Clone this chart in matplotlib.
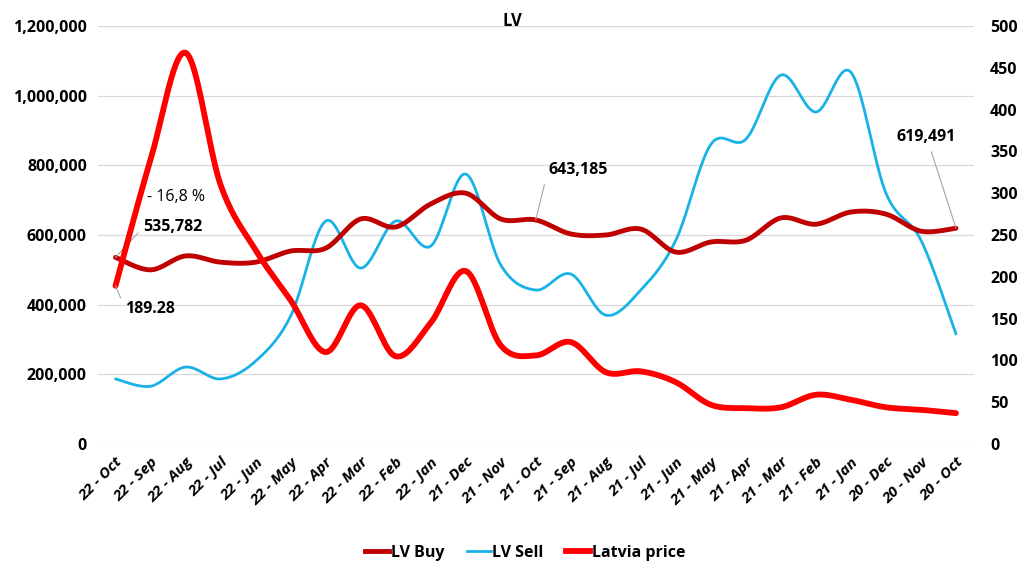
import numpy as np
import matplotlib
matplotlib.use("Agg")
import matplotlib.pyplot as plt
from matplotlib.lines import Line2D

plt.rcParams['font.family'] = ['Open Sans', 'DejaVu Sans']

months = ['22 - Oct', '22 - Sep', '22 - Aug', '22 - Jul', '22 - Jun', '22 - May',
          '22 - Apr', '22 - Mar', '22 - Feb', '22 - Jan', '21 - Dec', '21 - Nov',
          '21 - Oct', '21 - Sep', '21 - Aug', '21 - Jul', '21 - Jun', '21 - May',
          '21 - Apr', '21 - Mar', '21 - Feb', '21 - Jan', '20 - Dec', '20 - Nov',
          '20 - Oct']
lv_buy = [535782, 500000, 540000, 522000, 522000, 554000, 562000, 646000, 623000,
          689000, 720000, 646000, 643185, 603000, 600000, 617000, 551000, 580000,
          585000, 649000, 631000, 666000, 660000, 611000, 619491]
lv_sell = [187000, 166000, 221000, 187000, 238000, 367000, 640000, 505000, 640000,
           568000, 775000, 514000, 442000, 488000, 370000, 442000, 585000, 860000,
           875000, 1059000, 953000, 1067000, 720000, 585000, 316000]
latvia_price = [189.28, 340, 468, 310, 232, 172, 110, 166, 105, 145, 207, 118, 106,
                122, 86, 87, 74, 47, 43, 44, 59, 53, 44, 41, 37]


def smooth(y, n=20):
    # Excel-style smoothed line (Catmull-Rom through the points)
    y = np.asarray(y, dtype=float)
    x = np.arange(len(y), dtype=float)
    xs, ys = [], []
    for i in range(len(y) - 1):
        p0 = np.array([x[max(i - 1, 0)], y[max(i - 1, 0)]])
        p1 = np.array([x[i], y[i]])
        p2 = np.array([x[i + 1], y[i + 1]])
        p3 = np.array([x[min(i + 2, len(y) - 1)], y[min(i + 2, len(y) - 1)]])
        c1 = p1 + (p2 - p0) / 6
        c2 = p2 - (p3 - p1) / 6
        t = np.linspace(0, 1, n, endpoint=False)[:, None]
        b = (1 - t) ** 3 * p1 + 3 * (1 - t) ** 2 * t * c1 + 3 * (1 - t) * t ** 2 * c2 + t ** 3 * p2
        xs.append(b[:, 0]); ys.append(b[:, 1])
    xs.append([x[-1]]); ys.append([y[-1]])
    return np.concatenate(xs), np.concatenate(ys)


fig = plt.figure(figsize=(10.24, 5.76), dpi=100)
ax = fig.add_axes([0.0957, 0.229, 0.855, 0.726])
ax2 = ax.twinx()

c_buy, c_sell, c_price = '#C00000', '#19B2E8', '#FF0000'

ax.plot(*smooth(lv_buy), color=c_buy, lw=3.5, solid_capstyle='round', zorder=3)
ax.plot(*smooth(lv_sell), color=c_sell, lw=2.0, solid_capstyle='round', zorder=2)
ax2.plot(*smooth(latvia_price), color=c_price, lw=4.2, solid_capstyle='round')

ax.set_xlim(-0.5, len(months) - 0.5)
ax.set_ylim(0, 1200000)
ax2.set_ylim(0, 500)
ax.set_yticks(np.arange(0, 1200001, 200000))
ax.set_yticklabels([f'{v:,}' for v in range(0, 1200001, 200000)])
ax2.set_yticks(np.arange(0, 501, 50))
ax.grid(axis='y', color='#D9D9D9', lw=0.9)
ax.set_axisbelow(True)
ax.set_xticks(range(len(months)))
ax.set_xticklabels(months, rotation=45, ha='right', rotation_mode='anchor',
                   fontsize=11, fontweight='bold', fontstyle='italic')
for a in (ax, ax2):
    for s in a.spines.values():
        s.set_visible(False)
    a.tick_params(length=0, labelsize=11.5)
    for lab in a.get_yticklabels():
        lab.set_fontweight('bold')
ax.tick_params(axis='x', pad=8, labelsize=11)
ax.tick_params(axis='y', pad=8)
ax2.tick_params(axis='y', pad=12)

# data labels with leader lines
lab_kw = dict(fontsize=11.5, fontweight='bold', color='black')
ax.annotate(f'{lv_buy[0]:,}', xy=(0, lv_buy[0]), xytext=(0.8, 623000),
            va='center', ha='left',
            arrowprops=dict(arrowstyle='-', color='#A6A6A6', lw=0.8,
                            relpos=(0, 0.5), shrinkA=3, shrinkB=0), **lab_kw)
ax.text(0.9, 709000, '- 16,8 %', fontsize=11.5, color='black', va='center')
ax2.annotate(f'{latvia_price[0]:.2f}', xy=(0, latvia_price[0]), xytext=(0.27, 162),
             va='center', ha='left',
             arrowprops=dict(arrowstyle='-', color='#A6A6A6', lw=0.8,
                             relpos=(0, 0.5), shrinkA=3, shrinkB=0), **lab_kw)
ax.annotate(f'{lv_buy[12]:,}', xy=(12, lv_buy[12]), xytext=(12.35, 787000),
            va='center', ha='left',
            arrowprops=dict(arrowstyle='-', color='#A6A6A6', lw=0.8,
                            relpos=(0, 0.5), shrinkA=3, shrinkB=0), **lab_kw)
ax.annotate(f'{lv_buy[24]:,}', xy=(24, lv_buy[24]), xytext=(23.15, 881000),
            va='center', ha='center',
            arrowprops=dict(arrowstyle='-', color='#A6A6A6', lw=0.8,
                            relpos=(0.55, 0), shrinkA=3, shrinkB=0), **lab_kw)

fig.text(0.5, 0.963, 'LV', ha='center', va='center', fontsize=12, fontweight='bold')

handles = [Line2D([], [], color=c_buy, lw=3.5),
           Line2D([], [], color=c_sell, lw=2.0),
           Line2D([], [], color=c_price, lw=4.2)]
fig.legend(handles, ['LV Buy', 'LV Sell', 'Latvia price'], loc='center',
           bbox_to_anchor=(0.513, 0.04), ncol=3, frameon=False, handlelength=1.5,
           handletextpad=0.1, columnspacing=1.4, prop={'size': 11.5, 'weight': 'bold'})

fig.savefig('out.png', dpi=100)
